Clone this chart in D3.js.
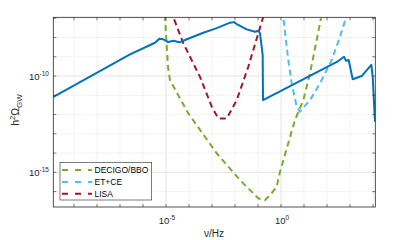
<!DOCTYPE html>
<html>
<head>
<meta charset="utf-8">
<script src="https://cdn.jsdelivr.net/npm/d3@7"></script>
<style>
  body { margin: 0; background: #fff; }
  svg { font-family: "Liberation Sans", Arial, sans-serif; }
</style>
</head>
<body>
<div id="chart-area"></div>
<script>
// values, as log10 of frequency (Hz) and of h^2 Omega_GW
var signalLogF = [-9.913, -6.565, -5.478, -5.291, -5.117, -4.9, -4.683, -4.422, -4.174, -3.378, -2.796, -2.217, -2.043, -1.926, -1.491, -1.13, -0.987, -0.913, -0.796, -0.783, -0.043, 2.491, 2.739, 2.826, 2.943, 3.117, 3.509, 3.926, 3.987, 4.087];
var signalLogW = [-11.09, -8.873, -8.27, -8.063, -8.094, -8.235, -8.167, -8.25, -8.13, -7.75, -7.51, -7.23, -7.20, -7.30, -7.575, -7.70, -7.65, -7.78, -8.91, -11.246, -10.80, -9.22, -9.0, -9.21, -9.17, -10.17, -10.0, -9.42, -10.04, -12.37];

var decigoLogF = [-5.052, -5.043, -4.913, -4.826, -4.03, -2.796, -1.783, -0.987, -0.696, -0.478, -0.187, -0.043, 0.609, 0.97, 1.26, 1.696, 1.74];
var decigoLogW = [-6.31, -6.95, -9.53, -10.21, -11.94, -14.01, -15.40, -16.35, -16.44, -16.18, -15.75, -14.97, -12.28, -11.25, -9.86, -7.26, -6.99];

var etceLogF = [0.087, 0.1, 0.317, 0.465, 0.683, 0.826, 1.261, 1.696, 2.204, 2.565, 2.783, 2.8];
var etceLogW = [-6.57, -6.95, -9.17, -10.38, -11.59, -11.85, -11.25, -10.38, -9.17, -7.96, -7.13, -7.0];

var lisaLogF = [-4.783, -4.683, -4.248, -3.522, -3.013, -2.726, -2.361, -1.926, -1.422, -0.987, -0.77, -0.696];
var lisaLogW = [-6.57, -6.94, -8.30, -10.04, -11.59, -12.20, -12.20, -11.25, -9.52, -7.78, -6.92, -6.57];

var legendNames = ["DECIGO/BBO", "ET+CE", "LISA"];
var xTickExp = [-5, 0];
var yTickExp = [-10, -15];

var width = 415, height = 240;
var pLeft = 53.3, pRight = 375.3, pTop = 17.3, pBottom = 207;

var svg = d3.select("#chart-area").append("svg").attr("width", width).attr("height", height);

var x = d3.scaleLog().domain([Math.pow(10, -9.9), Math.pow(10, 4.1)]).range([pLeft, pRight]);
var y = d3.scaleLog().domain([Math.pow(10, -16.8), Math.pow(10, -6.95)]).range([pBottom, pTop]);

// decade grid: dotted minor, solid at labelled ticks
var xDec = d3.range(-9, 5), yDec = d3.range(-16, -6);
var grid = svg.append("g");
xDec.forEach(function(e) {
  var major = xTickExp.indexOf(e) >= 0;
  grid.append("line").attr("x1", x(Math.pow(10, e))).attr("x2", x(Math.pow(10, e)))
    .attr("y1", pTop).attr("y2", pBottom)
    .attr("stroke", major ? "#e3e3e3" : "#d6d6d6").attr("stroke-width", major ? 1 : 0.7)
    .attr("stroke-dasharray", major ? null : "1,1.5");
});
yDec.forEach(function(e) {
  var major = yTickExp.indexOf(e) >= 0;
  grid.append("line").attr("y1", y(Math.pow(10, e))).attr("y2", y(Math.pow(10, e)))
    .attr("x1", pLeft).attr("x2", pRight)
    .attr("stroke", major ? "#e3e3e3" : "#d6d6d6").attr("stroke-width", major ? 1 : 0.7)
    .attr("stroke-dasharray", major ? null : "1,1.5");
});

svg.append("clipPath").attr("id", "plotclip").append("rect")
  .attr("x", pLeft).attr("y", pTop).attr("width", pRight - pLeft).attr("height", pBottom - pTop);

var line = d3.line().x(function(d) { return x(d[0]); }).y(function(d) { return y(d[1]); });
function pts(lf, lw) {
  return lf.map(function(f, i) { return [Math.pow(10, f), Math.pow(10, lw[i])]; });
}

var plot = svg.append("g").attr("clip-path", "url(#plotclip)");
plot.append("path").attr("d", line(pts(lisaLogF, lisaLogW))).attr("fill", "none")
  .attr("stroke", "#A2142F").attr("stroke-width", 2).attr("stroke-dasharray", "6,4");
plot.append("path").attr("d", line(pts(etceLogF, etceLogW))).attr("fill", "none")
  .attr("stroke", "#4DBEEE").attr("stroke-width", 2).attr("stroke-dasharray", "6,4");
plot.append("path").attr("d", line(pts(decigoLogF, decigoLogW))).attr("fill", "none")
  .attr("stroke", "#77AC30").attr("stroke-width", 2).attr("stroke-dasharray", "6,4");
plot.append("path").attr("d", line(pts(signalLogF, signalLogW))).attr("fill", "none")
  .attr("stroke", "#0072BD").attr("stroke-width", 2).attr("stroke-linejoin", "round");

// box and inward ticks on all sides
var axc = "#262626";
svg.append("rect").attr("x", pLeft).attr("y", pTop).attr("width", pRight - pLeft).attr("height", pBottom - pTop)
  .attr("fill", "none").attr("stroke", axc).attr("stroke-width", 0.8);
xDec.forEach(function(e) {
  var px = x(Math.pow(10, e));
  svg.append("line").attr("x1", px).attr("x2", px).attr("y1", pBottom).attr("y2", pBottom - 3).attr("stroke", axc).attr("stroke-width", 0.6);
  svg.append("line").attr("x1", px).attr("x2", px).attr("y1", pTop).attr("y2", pTop + 3).attr("stroke", axc).attr("stroke-width", 0.6);
});
yDec.forEach(function(e) {
  var py = y(Math.pow(10, e));
  svg.append("line").attr("x1", pLeft).attr("x2", pLeft + 3).attr("y1", py).attr("y2", py).attr("stroke", axc).attr("stroke-width", 0.6);
  svg.append("line").attr("x1", pRight).attr("x2", pRight - 3).attr("y1", py).attr("y2", py).attr("stroke", axc).attr("stroke-width", 0.6);
});

// tick labels 10^n
function powLabel(t, e) {
  t.append("tspan").text("10");
  t.append("tspan").attr("dy", -4).attr("font-size", "6.5px").text(e);
}
xTickExp.forEach(function(e) {
  var t = svg.append("text").attr("x", x(Math.pow(10, e)) + 1).attr("y", 224)
    .attr("text-anchor", "middle").attr("font-size", "9.5px").attr("fill", axc);
  powLabel(t, e);
});
yTickExp.forEach(function(e) {
  var t = svg.append("text").attr("x", 49).attr("y", y(Math.pow(10, e)) + 3.5)
    .attr("text-anchor", "end").attr("font-size", "9.5px").attr("fill", axc);
  powLabel(t, e);
});

svg.append("text").attr("x", 214).attr("y", 237).attr("text-anchor", "middle")
  .attr("font-size", "10px").attr("fill", axc).text("\u03bd/Hz");

var yl = svg.append("text").attr("transform", "translate(19,110) rotate(-90)")
  .attr("text-anchor", "middle").attr("font-size", "10.5px").attr("fill", axc);
yl.append("tspan").text("h");
yl.append("tspan").attr("dy", -4).attr("font-size", "7.5px").text("2");
yl.append("tspan").attr("dy", 4).text("\u03a9");
yl.append("tspan").attr("dy", 3).attr("font-size", "8px").text("GW");

// legend
var legendColors = ["#77AC30", "#4DBEEE", "#A2142F"];
var lg = svg.append("g");
lg.append("rect").attr("x", 60).attr("y", 162.3).attr("width", 91.7).attr("height", 37.7)
  .attr("fill", "#fff").attr("stroke", axc).attr("stroke-width", 0.6);
legendNames.forEach(function(n, i) {
  var ly = 170 + i * 11.9;
  lg.append("line").attr("x1", 62).attr("x2", 92).attr("y1", ly).attr("y2", ly)
    .attr("stroke", legendColors[i]).attr("stroke-width", 2).attr("stroke-dasharray", "6,7");
  lg.append("text").attr("x", 94.5).attr("y", ly + 3.2).attr("font-size", "8.5px").attr("fill", "#000").text(n);
});
</script>
</body>
</html>
